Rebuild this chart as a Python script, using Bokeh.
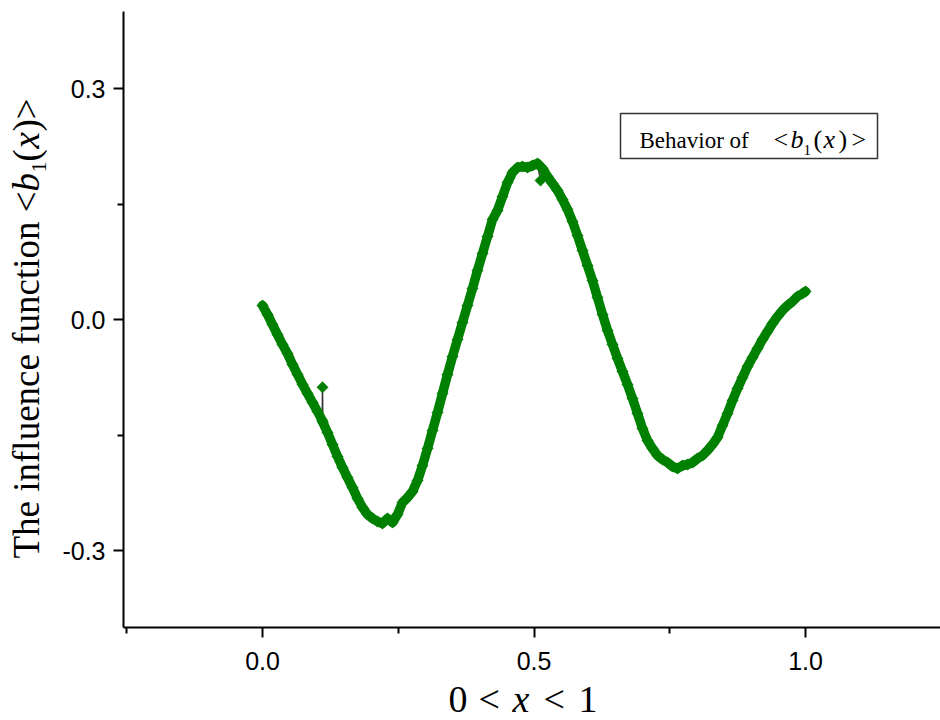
import numpy as np
from bokeh.plotting import figure
from bokeh.models import Range1d, FixedTicker, PrintfTickFormatter, Label, BoxAnnotation
from bokeh.embed import file_html
from bokeh.resources import INLINE

# Influence function <b1(x)> sampled on 0 < x < 1
x_vals = [
    0.0000, 0.0092, 0.0184, 0.0276, 0.0368, 0.0460, 0.0552, 0.0645, 0.0737, 0.0829,
    0.0921, 0.1013, 0.1100, 0.1105, 0.1110, 0.1197, 0.1289, 0.1381, 0.1473, 0.1565,
    0.1657, 0.1750, 0.1842, 0.1934, 0.2026, 0.2118, 0.2210, 0.2302, 0.2394, 0.2486,
    0.2578, 0.2670, 0.2762, 0.2855, 0.2947, 0.3039, 0.3131, 0.3223, 0.3315, 0.3407,
    0.3499, 0.3591, 0.3683, 0.3775, 0.3867, 0.3959, 0.4052, 0.4144, 0.4236, 0.4328,
    0.4420, 0.4512, 0.4604, 0.4696, 0.4788, 0.4880, 0.4972, 0.5064, 0.5120, 0.5157,
    0.5249, 0.5341, 0.5433, 0.5525, 0.5617, 0.5709, 0.5801, 0.5893, 0.5985, 0.6077,
    0.6169, 0.6262, 0.6354, 0.6446, 0.6538, 0.6630, 0.6722, 0.6814, 0.6906, 0.6998,
    0.7090, 0.7182, 0.7274, 0.7366, 0.7459, 0.7551, 0.7643, 0.7735, 0.7827, 0.7919,
    0.8011, 0.8103, 0.8195, 0.8287, 0.8379, 0.8471, 0.8564, 0.8656, 0.8748, 0.8840,
    0.8932, 0.9024, 0.9116, 0.9208, 0.9300, 0.9392, 0.9484, 0.9576, 0.9669, 0.9761,
    0.9853, 0.9945, 1.0000,
]
b1_vals = [
    0.0182, 0.0065, -0.0065, -0.0195, -0.0325, -0.0442, -0.0584, -0.0714, -0.0844, -0.0961,
    -0.1078, -0.1195, -0.1310, -0.0880, -0.1335, -0.1468, -0.1623, -0.1779, -0.1922, -0.2052,
    -0.2182, -0.2325, -0.2442, -0.2532, -0.2584, -0.2623, -0.2649, -0.2584, -0.2636, -0.2532,
    -0.2377, -0.2312, -0.2234, -0.2091, -0.1896, -0.1675, -0.1442, -0.1208, -0.0961, -0.0714,
    -0.0481, -0.0260, -0.0039, 0.0182, 0.0403, 0.0636, 0.0857, 0.1078, 0.1299, 0.1416,
    0.1597, 0.1779, 0.1909, 0.1974, 0.1987, 0.1974, 0.2000, 0.2026, 0.1805, 0.1961,
    0.1857, 0.1766, 0.1675, 0.1558, 0.1429, 0.1273, 0.1091, 0.0896, 0.0701, 0.0506,
    0.0286, 0.0065, -0.0143, -0.0325, -0.0506, -0.0675, -0.0844, -0.1026, -0.1221, -0.1416,
    -0.1571, -0.1675, -0.1766, -0.1818, -0.1857, -0.1909, -0.1935, -0.1896, -0.1883, -0.1857,
    -0.1805, -0.1766, -0.1701, -0.1623, -0.1532, -0.1377, -0.1221, -0.1052, -0.0896, -0.0753,
    -0.0610, -0.0494, -0.0377, -0.0260, -0.0156, -0.0052, 0.0039, 0.0117, 0.0182, 0.0234,
    0.0299, 0.0338, 0.0364,
]
# isolated samples that stand off the main trace
stray_idx = [13, 58]

x_ticks = [0.0, 0.5, 1.0]
x_minor = [-0.25, 0.25, 0.75, 1.25]
y_ticks = [-0.3, 0.0, 0.3]
y_minor = [-0.15, 0.15]

# axis extents (data) and their place on the page (pixels)
X_LO, X_HI = -0.256, 1.2486
Y_LO, Y_HI = -0.4, 0.4
AX_L, AX_R, AX_T, AX_B = 123, 940, 11, 627
W, H = 940, 720

# the canvas is one big frame; the axes sit at fixed spots inside it
x_per_px = (X_HI - X_LO) / (AX_R - AX_L)
y_per_px = (Y_HI - Y_LO) / (AX_B - AX_T)
CANVAS_X = (X_LO - AX_L * x_per_px, X_HI + (W - AX_R) * x_per_px)
CANVAS_Y = (Y_LO - (H - AX_B) * y_per_px, Y_HI + AX_T * y_per_px)

GREEN = "#008000"
SERIF = "Liberation Serif"

p = figure(width=W, height=H, output_backend="svg", toolbar_location=None,
           x_range=Range1d(*CANVAS_X), y_range=Range1d(*CANVAS_Y),
           min_border=0, min_border_left=0, min_border_right=0,
           min_border_top=0, min_border_bottom=0)
p.outline_line_color = None
p.xgrid.visible = False
p.ygrid.visible = False
p.background_fill_color = "white"
p.border_fill_color = "white"

xa, ya = p.xaxis[0], p.yaxis[0]
xa.fixed_location = Y_LO
ya.fixed_location = X_LO
xa.bounds = (X_LO, X_HI)
ya.bounds = (Y_LO, Y_HI)

for ax in (xa, ya):
    ax.axis_line_width = 2
    ax.axis_line_color = "black"
    ax.major_tick_line_width = 2
    ax.minor_tick_line_width = 2
    ax.major_tick_line_color = "black"
    ax.minor_tick_line_color = "black"
    ax.major_tick_in = 0
    ax.major_tick_out = 10
    ax.minor_tick_in = 0
    ax.minor_tick_out = 6
    ax.major_label_text_font = "Liberation Sans"
    ax.major_label_text_font_size = "25px"
    ax.major_label_text_color = "black"
    ax.formatter = PrintfTickFormatter(format="%.1f")

xa.ticker = FixedTicker(ticks=x_ticks, minor_ticks=x_minor)
ya.ticker = FixedTicker(ticks=y_ticks, minor_ticks=y_minor)
xa.major_label_standoff = 14
ya.major_label_standoff = 8

# thin connecting line of the series
p.line(x_vals, b1_vals, line_color="#333333", line_width=1.5)

# dense symbol trail drawn as a band, leaving the stray samples on their own
band_x = [v for i, v in enumerate(x_vals) if i not in stray_idx]
band_y = [v for i, v in enumerate(b1_vals) if i not in stray_idx]
p.line(band_x, band_y, line_color=GREEN, line_width=9.5, line_join="round", line_cap="round")

# diamond symbols
p.scatter(x_vals, b1_vals, marker="square", angle=np.pi / 4, size=8,
          fill_color=GREEN, line_color=GREEN, line_width=0.5)

# the label anchor sits this fraction of the font size below the baseline
BASE_SHIFT = 0.35


def to_data(px, py):
    """Page pixel position -> data coordinates, for placing annotations."""
    return CANVAS_X[0] + px * x_per_px, CANVAS_Y[1] - py * y_per_px


def place(text, px, py, size, italic=False, upright=True):
    """Text with its baseline start at page pixel (px, py)."""
    if upright:
        x, y = to_data(px, py - BASE_SHIFT * size)
        angle = 0.0
    else:
        x, y = to_data(px - BASE_SHIFT * size, py)
        angle = np.pi / 2
    p.add_layout(Label(x=x, y=y, text=text, text_font=SERIF,
                       text_font_size=f"{size}px",
                       text_font_style="italic" if italic else "normal",
                       text_align="left", text_baseline="alphabetic",
                       text_color="black", angle=angle))


# legend box
lx0, ly0 = to_data(620, 158)
lx1, ly1 = to_data(877, 113)
p.add_layout(BoxAnnotation(left=lx0, right=lx1, bottom=ly0, top=ly1,
                           fill_color="white", fill_alpha=1.0,
                           line_color="#333333", line_alpha=1.0, line_width=1.5))
place("Behavior of", 639, 148, 23)
place("<", 773, 148, 26)
place("b", 790, 148, 26, italic=True)
place("1", 803, 155, 15)
place("(", 813, 148, 26)
place("x", 823, 148, 26, italic=True)
place(")", 838, 148, 26)
place(">", 851, 148, 26)

# x-axis title: 0 < x < 1
place("0", 448, 712, 38)
place("<", 478, 712, 38)
place("x", 512, 712, 38, italic=True)
place("<", 543, 712, 38)
place("1", 578, 712, 38)

# y-axis title: The influence function <b1(x)>, reading upward
place("The influence function <", 39, 558, 37, upright=False)
place("b", 39, 191, 37, italic=True, upright=False)
place("1", 46, 172, 22, upright=False)
place("(", 39, 161, 37, upright=False)
place("x", 39, 148, 37, italic=True, upright=False)
place(")>", 39, 131, 37, upright=False)

open("out.html", "w").write(file_html(p, INLINE))
